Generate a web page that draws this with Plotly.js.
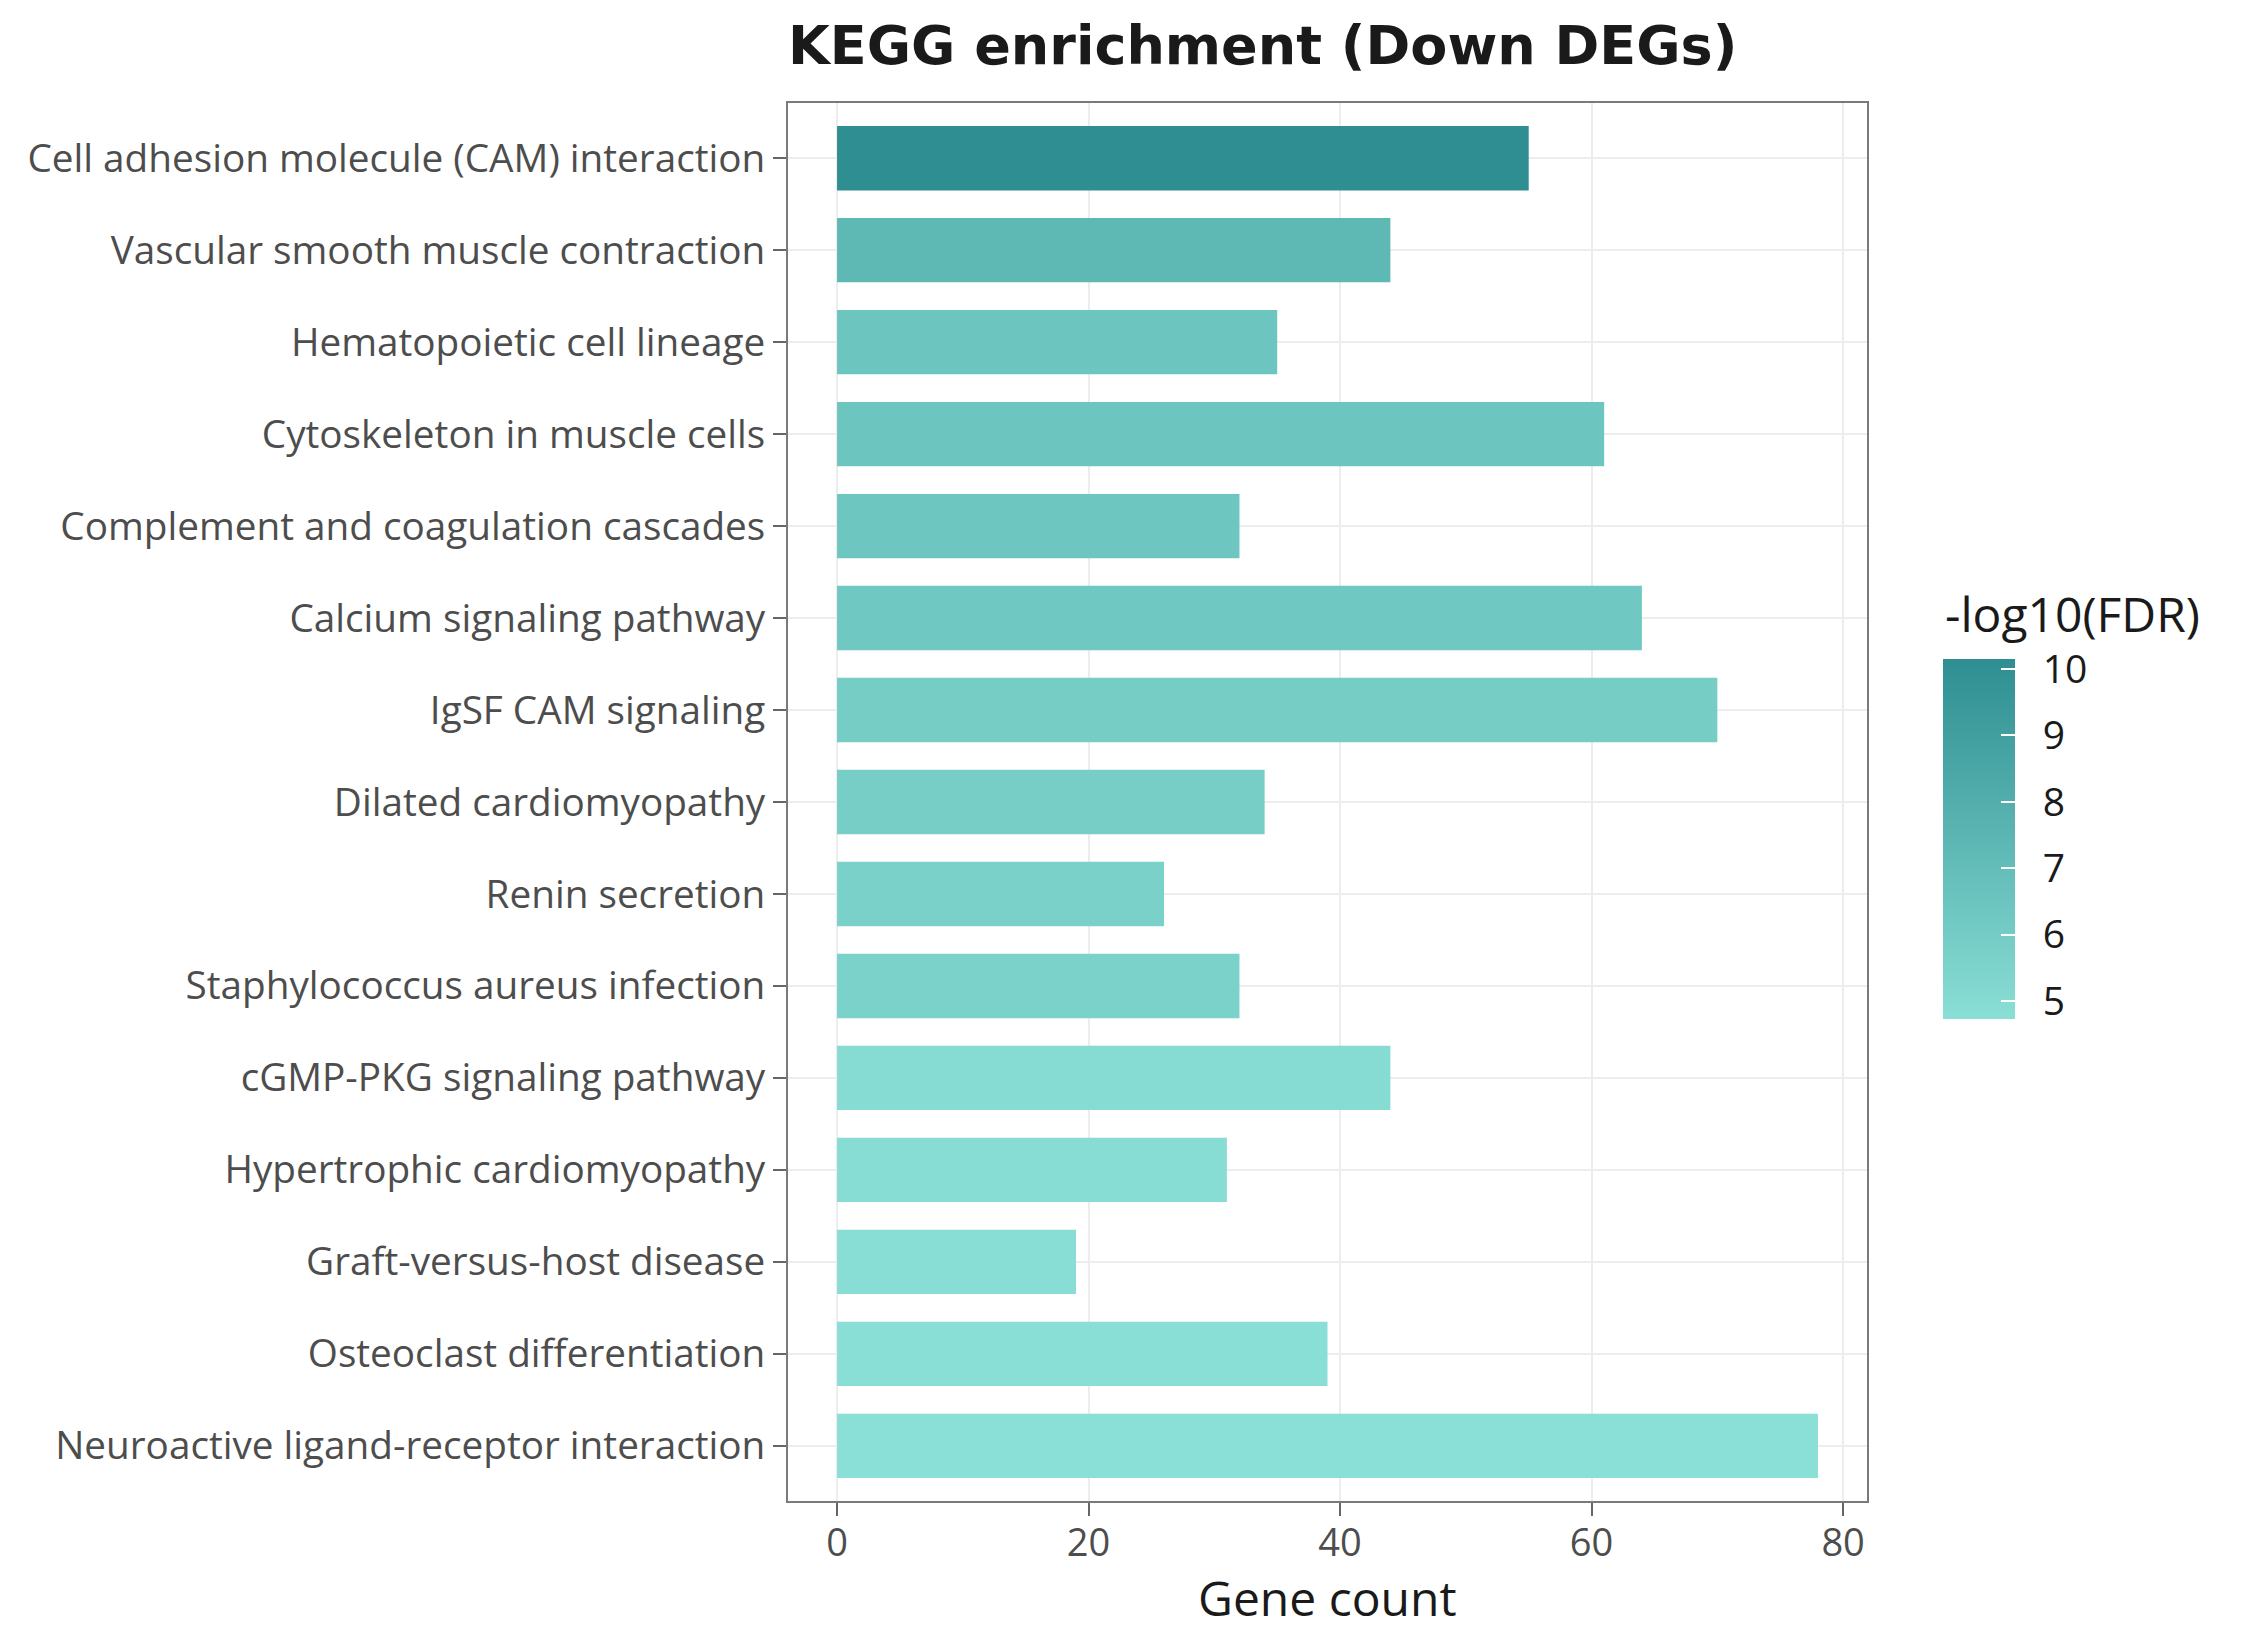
<!DOCTYPE html>
<html>
<head>
<meta charset="utf-8">
<script src="https://cdn.plot.ly/plotly-3.0.1.min.js"></script>
<style>
  html, body { margin: 0; padding: 0; background: #ffffff; }
  #chart { width: 2250px; height: 1650px; }
</style>
</head>
<body>
<div id="chart"></div>
<script>
// KEGG pathways enriched among down-regulated genes (top to bottom)
const pathways = [
  "Cell adhesion molecule (CAM) interaction",
  "Vascular smooth muscle contraction",
  "Hematopoietic cell lineage",
  "Cytoskeleton in muscle cells",
  "Complement and coagulation cascades",
  "Calcium signaling pathway",
  "IgSF CAM signaling",
  "Dilated cardiomyopathy",
  "Renin secretion",
  "Staphylococcus aureus infection",
  "cGMP-PKG signaling pathway",
  "Hypertrophic cardiomyopathy",
  "Graft-versus-host disease",
  "Osteoclast differentiation",
  "Neuroactive ligand-receptor interaction"
];

// number of down-regulated genes in each pathway
const geneCount = [55, 44, 35, 61, 32, 64, 70, 34, 26, 32, 44, 31, 19, 39, 78];

// -log10 of the adjusted p-value
const negLog10FDR = [10.15, 7.3, 6.5, 6.45, 6.4, 6.3, 5.95, 5.9, 5.65, 5.6, 4.95, 4.9, 4.85, 4.8, 4.73];

const countTicks = [0, 20, 40, 60, 80];
const fdrTicks = [5, 6, 7, 8, 9, 10];

const lowColor = "#8ADFD6";
const highColor = "#2E8E91";

const textFont = "Open Sans, Noto Sans, sans-serif";
// spacing between the colour bar and its labels
const labelGap = "\u2002";

const trace = {
  type: "bar",
  orientation: "h",
  x: geneCount,
  y: pathways,
  width: 0.7,
  hoverinfo: "x+y",
  marker: {
    color: negLog10FDR,
    colorscale: [[0, lowColor], [1, highColor]],
    cmin: Math.min(...negLog10FDR),
    cmax: Math.max(...negLog10FDR),
    line: { width: 0 },
    showscale: true,
    colorbar: {
      x: 1.0704,
      xanchor: "left",
      xpad: 0,
      y: 0.4735,
      yanchor: "middle",
      ypad: 0,
      thickness: 72,
      thicknessmode: "pixels",
      len: 360,
      lenmode: "pixels",
      outlinewidth: 0,
      tickvals: fdrTicks,
      ticktext: fdrTicks.map(v => labelGap + v),
      ticks: "inside",
      ticklen: 14,
      tickwidth: 2,
      tickcolor: "#ffffff",
      tickfont: { family: textFont, size: 39, color: "#1a1a1a" }
    }
  }
};

const layout = {
  width: 2250,
  height: 1650,
  paper_bgcolor: "#ffffff",
  plot_bgcolor: "#ffffff",
  margin: { l: 788, r: 383, t: 103, b: 149, pad: 0 },
  showlegend: false,
  title: {
    text: "<b>KEGG enrichment (Down DEGs)</b>",
    font: { family: "DejaVu Sans, sans-serif", size: 54, color: "#1a1a1a" },
    xref: "paper",
    x: 0,
    xanchor: "left",
    yref: "container",
    y: 0.9725,
    yanchor: "middle"
  },
  annotations: [
    {
      // colour bar heading
      text: "-log10(FDR)",
      xref: "paper",
      yref: "paper",
      x: 1.0704,
      xanchor: "left",
      y: 0.6345,
      yanchor: "middle",
      showarrow: false,
      font: { family: textFont, size: 48, color: "#1a1a1a" }
    },
    {
      // x-axis heading
      text: "Gene count",
      xref: "paper",
      yref: "paper",
      x: 0.5,
      xanchor: "center",
      y: -0.069,
      yanchor: "middle",
      borderpad: 0,
      showarrow: false,
      font: { family: textFont, size: 48, color: "#1a1a1a" }
    }
  ],
  xaxis: {
    range: [-3.9, 81.9],
    tickvals: countTicks,
    ticktext: countTicks.map(String),
    ticks: "outside",
    ticklen: 13,
    tickwidth: 2,
    tickcolor: "#666666",
    ticklabelstandoff: -6,
    tickfont: { family: textFont, size: 38, color: "#4d4d4d" },
    showgrid: true,
    gridcolor: "#ededed",
    gridwidth: 2,
    zeroline: false,
    showline: true,
    mirror: true,
    linecolor: "#7a7a7a",
    linewidth: 2,
    automargin: false
  },
  yaxis: {
    type: "category",
    categoryorder: "array",
    categoryarray: pathways,
    range: [pathways.length - 1 + 0.6, -0.6],
    ticks: "outside",
    ticklen: 13,
    tickwidth: 2,
    tickcolor: "#666666",
    tickfont: { family: textFont, size: 38.7, color: "#4d4d4d" },
    showgrid: true,
    gridcolor: "#ededed",
    gridwidth: 2,
    zeroline: false,
    showline: true,
    mirror: true,
    linecolor: "#7a7a7a",
    linewidth: 2,
    automargin: false
  }
};

Plotly.newPlot("chart", [trace], layout, { displayModeBar: false, staticPlot: true });
</script>
</body>
</html>
